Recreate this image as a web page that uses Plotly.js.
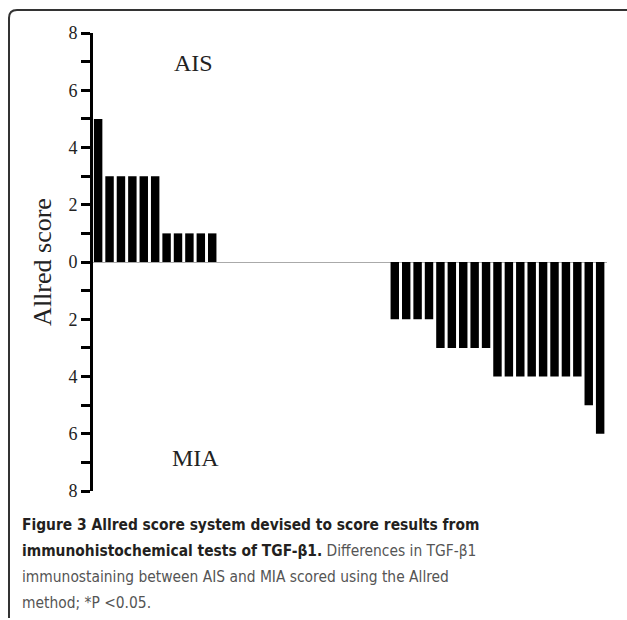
<!DOCTYPE html>
<html>
<head>
<meta charset="utf-8">
<script src="https://cdn.plot.ly/plotly-3.0.1.min.js"></script>
<style>
html,body{margin:0;padding:0;background:#fff;}
#chart{width:627px;height:620px;}
</style>
</head>
<body>
<div id="chart"></div>
<script>
// ---- data ----
const aisScores = [5, 3, 3, 3, 3, 3, 1, 1, 1, 1, 1];
const miaScores = [2, 2, 2, 2, 3, 3, 3, 3, 3, 4, 4, 4, 4, 4, 4, 4, 4, 5, 6];
const groupLabels = ['AIS', 'MIA'];
const yTickValues = [-8, -7, -6, -5, -4, -3, -2, -1, 0, 1, 2, 3, 4, 5, 6, 7, 8];
const yTickLabels = ['8', '', '6', '', '4', '', '2', '', '0', '', '2', '', '4', '', '6', '', '8'];
const yTitle = 'Allred score';
const B = s => `<b><span style="color:#231f20">${s}</span></b>`;
const captionLines = [
  B('Figure 3 Allred score system devised to score results from'),
  B('immunohistochemical tests of TGF-β1.') + ' Differences in TGF-β1',
  'immunostaining between AIS and MIA scored using the Allred',
  'method; *P &lt;0.05.'
];

// ---- layout helpers ----
const emptySlots = 15;
const aisX = aisScores.map((_, i) => i);
const miaX = miaScores.map((_, i) => aisScores.length + emptySlots + i);

const W = 627, H = 620;
const M = {l: 93, r: 20, t: 33, b: 129};
const pw = W - M.l - M.r, ph = H - M.t - M.b;
const px = x => (x - M.l) / pw;
const py = y => (H - M.b - y) / ph;

const serif = 'Liberation Serif, Times New Roman, serif';
const sans = 'DejaVu Sans Condensed, Liberation Sans Narrow, Roboto, sans-serif';

const traces = [
  {type: 'bar', x: aisX, y: aisScores, name: groupLabels[0],
   marker: {color: '#000', line: {width: 0}}, hoverinfo: 'skip'},
  {type: 'bar', x: miaX, y: miaScores.map(v => -v), name: groupLabels[1],
   marker: {color: '#000', line: {width: 0}}, hoverinfo: 'skip'}
];

const captionY = [524.5, 550.5, 577, 603];
const annotations = [
  {xref: 'x', yref: 'y', x: 8.4, y: 6.95, text: groupLabels[0], showarrow: false,
   font: {family: serif, size: 24, color: '#222'}},
  {xref: 'x', yref: 'y', x: 8.5, y: -6.85, text: groupLabels[1], showarrow: false,
   font: {family: serif, size: 24, color: '#222'}}
];
captionLines.forEach((t, i) => {
  annotations.push({
    xref: 'paper', yref: 'paper', x: px(20), y: py(captionY[i]),
    xanchor: 'left', yanchor: 'middle', showarrow: false, align: 'left',
    text: t, font: {family: sans, size: 15.4, color: '#555'}
  });
});

const framePath = `M ${px(9)},${py(618)} L ${px(9)},${py(18)} Q ${px(9)},${py(10)} ${px(17)},${py(10)} L ${px(630)},${py(10)}`;

const layout = {
  width: W, height: H,
  margin: M,
  paper_bgcolor: '#fff', plot_bgcolor: '#fff',
  showlegend: false,
  bargap: 0.26,
  barmode: 'overlay',
  xaxis: {range: [-0.45, 44.6], visible: false, fixedrange: true},
  yaxis: {
    range: [-8, 8], tickmode: 'array', tickvals: yTickValues, ticktext: yTickLabels,
    ticks: 'outside', ticklen: 9, tickwidth: 3, tickcolor: '#000',
    showline: true, linewidth: 3, linecolor: '#000',
    showgrid: false, zeroline: true, zerolinecolor: '#aaa', zerolinewidth: 1,
    tickfont: {family: serif, size: 18, color: '#222'},
    title: {text: yTitle, font: {family: serif, size: 26, color: '#222'}, standoff: 10},
    automargin: false
  },
  annotations: annotations,
  shapes: [{type: 'path', xref: 'paper', yref: 'paper', path: framePath,
            line: {color: '#333', width: 2}}]
};

Plotly.newPlot('chart', traces, layout, {displayModeBar: false, staticPlot: true});
</script>
</body>
</html>
